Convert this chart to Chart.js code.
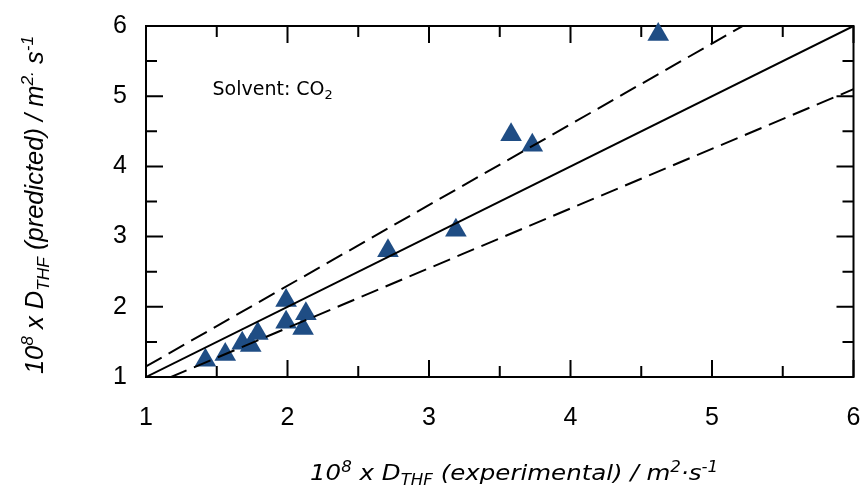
<!DOCTYPE html>
<html><head><meta charset="utf-8">
<script src="https://cdn.jsdelivr.net/npm/chart.js@4/dist/chart.umd.min.js"></script>
<style>html,body{margin:0;padding:0;background:#fff;overflow:hidden}#wrap{width:866px;height:489px;position:relative}</style>
</head><body><div id="wrap"><canvas id="c"></canvas></div>
<script>
// ---- data ----
const expX  = [1.42, 1.56, 1.68, 1.74, 1.79, 1.99, 1.99, 2.13, 2.11, 2.71, 3.19, 3.58, 3.73, 4.62];
const predY = [1.24, 1.32, 1.48, 1.45, 1.62, 2.09, 1.78, 1.90, 1.69, 2.80, 3.09, 4.45, 4.30, 5.88];
const parityX = [1, 6];
const parityY = [1, 6];
const upperX = [1, 6];
const upperY = [1.15, 6.9];
const lowerX = [1, 6];
const lowerY = [0.85, 5.1];
const axisMin = 1, axisMax = 6;
const tickValues = [1, 2, 3, 4, 5, 6];
const minorTickValues = [1.5, 2.5, 3.5, 4.5, 5.5];
const xTitleParts = [['10',''],['8','sup'],[' x D',''],['THF','sub'],[' (experimental) / m',''],['2','sup'],['·s',''],['-1','sup']];
const yTitleParts = [['10',''],['8','sup'],[' x D',''],['THF','sub'],[' (predicted) / m',''],['2.','sup'],[' s',''],['-1','sup']];
const noteParts = [['Solvent: CO',''],['2','sub']];
const notePos = {x: 1.47, y: 5.02};

const pts = expX.map((x,i)=>({x, y: predY[i]}));
const toXY = (xs, ys) => xs.map((x,i)=>({x, y: ys[i]}));

function richWidth(ctx, parts, size, family, style){
  let w = 0;
  for (const [t,k] of parts){
    const s = k ? size*0.68 : size;
    ctx.font = `${style} ${s}px ${family}`;
    w += ctx.measureText(t).width;
  }
  return w;
}
function drawRich(ctx, parts, x, y, size, family, style){
  let cx = x;
  for (const [t,k] of parts){
    const s = k ? size*0.68 : size;
    ctx.font = `${style} ${s}px ${family}`;
    let dy = 0;
    if (k === 'sup') dy = -size*0.38;
    if (k === 'sub') dy = size*0.22;
    ctx.fillText(t, cx, y + dy);
    cx += ctx.measureText(t).width;
  }
}

const framePlugin = {
  id: 'frame',
  beforeDatasetsDraw(chart){
    const {ctx, chartArea: a, scales} = chart;
    ctx.save();
    ctx.strokeStyle = '#000';
    ctx.lineWidth = 2;
    ctx.strokeRect(a.left, a.top, a.right - a.left, a.bottom - a.top);
    const all = tickValues.map(v=>[v,17]).concat(minorTickValues.map(v=>[v,11]));
    ctx.beginPath();
    for (const [v,len] of all){
      const px = scales.x.getPixelForValue(v);
      const py = scales.y.getPixelForValue(v);
      ctx.moveTo(px, a.bottom); ctx.lineTo(px, a.bottom - len);
      ctx.moveTo(px, a.top); ctx.lineTo(px, a.top + len);
      ctx.moveTo(a.left, py); ctx.lineTo(a.left + len, py);
      ctx.moveTo(a.right, py); ctx.lineTo(a.right - len, py);
    }
    ctx.stroke();
    ctx.restore();
  },
  afterDraw(chart){
    const {ctx, scales} = chart;
    ctx.save();
    ctx.fillStyle = '#000';
    ctx.textBaseline = 'alphabetic';
    // x title (slightly widened to match the reference face)
    const xf = '"DejaVu Sans"', xs = 22;
    const xw = richWidth(ctx, xTitleParts, xs, xf, 'italic');
    const targetW = 408, sx = targetW / xw;
    ctx.save();
    ctx.translate(514 - targetW/2, 480);
    ctx.scale(sx, 1);
    drawRich(ctx, xTitleParts, 0, 0, xs, xf, 'italic');
    ctx.restore();
    // y title
    const yf = '"Liberation Sans"', ys = 25.5;
    const yw = richWidth(ctx, yTitleParts, ys, yf, 'italic');
    ctx.save();
    ctx.translate(43, 205);
    ctx.rotate(-Math.PI/2);
    drawRich(ctx, yTitleParts, -yw/2, 0, ys, yf, 'italic');
    ctx.restore();
    // note
    const nx = scales.x.getPixelForValue(notePos.x);
    const ny = scales.y.getPixelForValue(notePos.y);
    drawRich(ctx, noteParts, nx, ny, 19, '"DejaVu Sans"', 'normal');
    ctx.restore();
  }
};

const tickFont = {family: '"Liberation Sans", Arial, sans-serif', size: 25};

new Chart(document.getElementById('c'), {
  type: 'scatter',
  data: {
    datasets: [
      {data: toXY(parityX, parityY), showLine: true, borderColor: '#000', borderWidth: 2, pointRadius: 0, fill: false},
      {data: toXY(upperX, upperY), showLine: true, borderColor: '#000', borderWidth: 2, borderDash: [18, 8], pointRadius: 0, fill: false},
      {data: toXY(lowerX, lowerY), showLine: true, borderColor: '#000', borderWidth: 2, borderDash: [18, 8], pointRadius: 0, fill: false},
      {data: pts, pointStyle: 'triangle', pointRadius: 12.5, pointHoverRadius: 12.5,
       backgroundColor: '#1f4d84', borderColor: '#1f4d84', borderWidth: 0, clip: false}
    ]
  },
  options: {
    responsive: true,
    maintainAspectRatio: false,
    animation: false,
    devicePixelRatio: 1,
    layout: {padding: {top: 26, right: 11, bottom: 0, left: 0}},
    plugins: {legend: {display: false}, tooltip: {enabled: false}},
    scales: {
      x: {
        type: 'linear', min: axisMin, max: axisMax,
        afterBuildTicks: s => { s.ticks = tickValues.map(v=>({value: v})); },
        afterFit: s => { s.height = 112; s.paddingLeft = 0; s.paddingRight = 0; s.paddingTop = 0; s.paddingBottom = 0; },
        ticks: {font: tickFont, color: '#000', padding: 26, maxRotation: 0},
        grid: {display: false, drawTicks: false},
        border: {display: false}
      },
      y: {
        type: 'linear', min: axisMin, max: axisMax,
        afterBuildTicks: s => { s.ticks = tickValues.map(v=>({value: v})); },
        afterFit: s => { s.width = 146; s.paddingLeft = 0; s.paddingRight = 0; s.paddingTop = 0; s.paddingBottom = 0; },
        ticks: {font: tickFont, color: '#000', padding: 19},
        grid: {display: false, drawTicks: false},
        border: {display: false}
      }
    }
  },
  plugins: [framePlugin]
});
</script>
</body></html>
